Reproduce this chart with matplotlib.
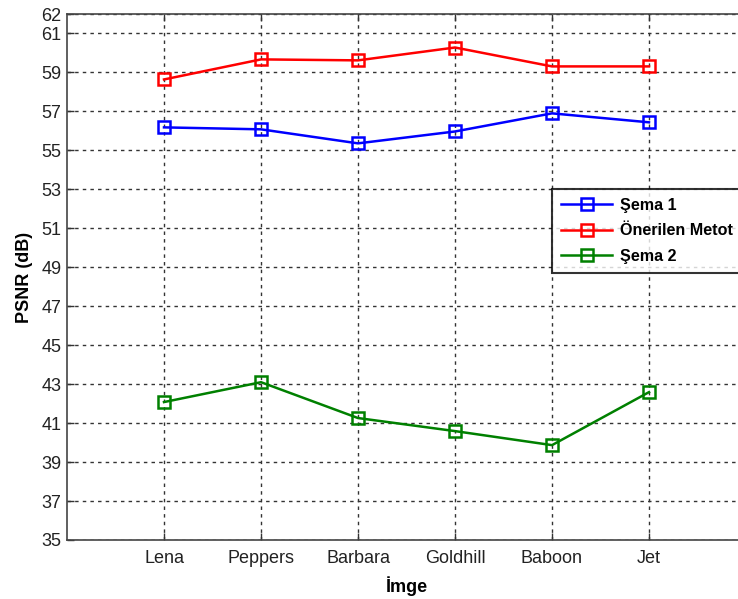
import matplotlib
matplotlib.use("Agg")
import matplotlib.pyplot as plt

plt.rcParams['font.family'] = ['Liberation Sans', 'DejaVu Sans']

images = ["Lena", "Peppers", "Barbara", "Goldhill", "Baboon", "Jet"]
sema1 = [56.18, 56.08, 55.36, 55.97, 56.90, 56.44]
onerilen = [58.64, 59.67, 59.62, 60.28, 59.31, 59.31]
sema2 = [42.08, 43.10, 41.26, 40.59, 39.87, 42.59]
yticks = [35, 37, 39, 41, 43, 45, 47, 49, 51, 53, 55, 57, 59, 61, 62]

fig = plt.figure(figsize=(7.38, 5.99), dpi=100)
ax = fig.add_axes([67/738, 59/599, (746-67)/738, (540-14)/599])

x = list(range(1, len(images) + 1))
style = dict(marker='s', markersize=9, markerfacecolor='none', markeredgewidth=1.8, linewidth=1.8)
ax.plot(x, sema1, color='#0000ff', label='Şema 1', **style)
ax.plot(x, onerilen, color='#ff0000', label='Önerilen Metot', **style)
ax.plot(x, sema2, color='#008000', label='Şema 2', **style)

ax.set_xlim(0, 7)
ax.set_ylim(35, 62)
ax.set_xticks(x)
ax.set_xticklabels(images)
ax.set_yticks(yticks)
ax.tick_params(direction='in', labelsize=13, length=5, width=1, top=True, right=True,
               colors='#333333', labelcolor='#222222')
ax.tick_params(axis='x', pad=7)
ax.tick_params(axis='y', pad=4)
ax.grid(True, color='#333333', linestyle=(0, (2.5, 3)), linewidth=1.0)
for s in ax.spines.values():
    s.set_color('#444444')
    s.set_linewidth(1.2)

ax.set_xlabel('İmge', fontsize=13, fontweight='bold', labelpad=7)
ax.set_ylabel('PSNR (dB)', fontsize=13, fontweight='bold', labelpad=6)

leg = ax.legend(loc='upper left', bbox_to_anchor=((552-67)/679, (540-189)/526),
                frameon=True, fancybox=False, prop={'weight': 'bold', 'size': 11.6},
                handlelength=3.2, borderaxespad=0, labelspacing=0.66, handletextpad=0.45,
                borderpad=0.55, edgecolor='black')
leg.get_frame().set_linewidth(1.5)

fig.savefig('out.png', dpi=100)
